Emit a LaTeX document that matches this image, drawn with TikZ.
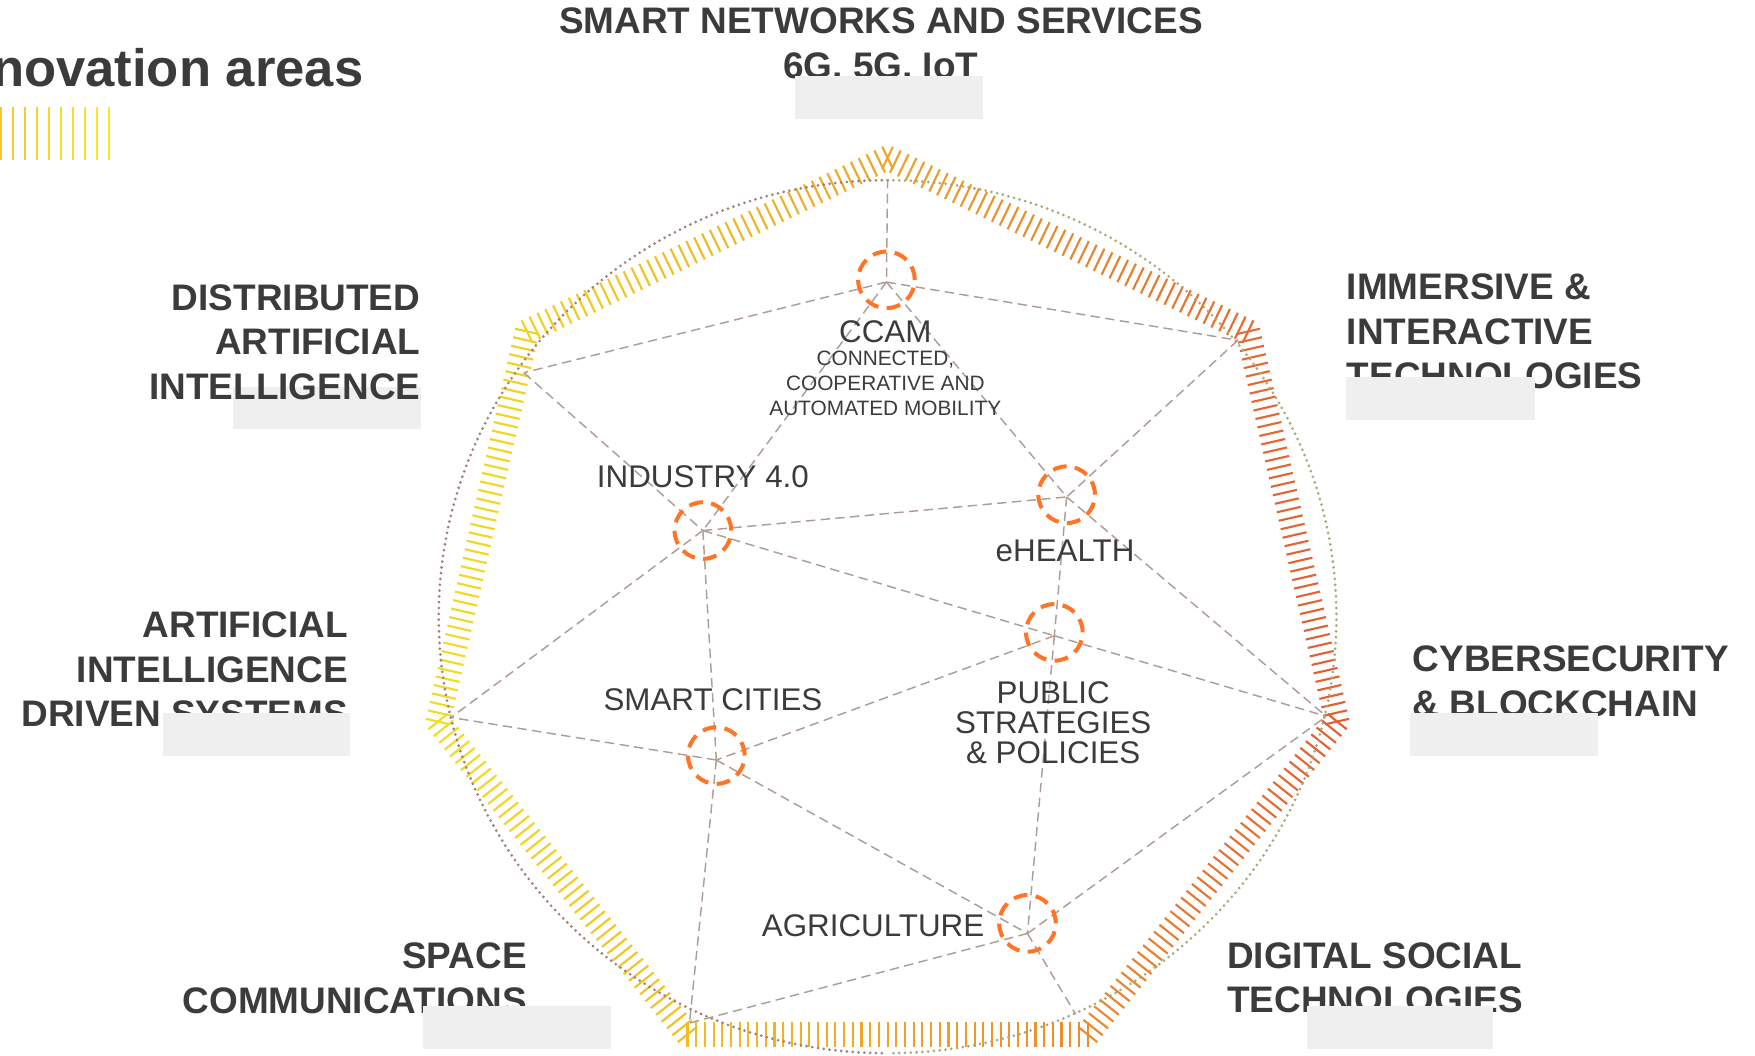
\documentclass[tikz,border=0pt]{standalone}
\usepackage{fontspec}
\setmainfont{Liberation Sans}
\usetikzlibrary{calc}
\definecolor{txt}{HTML}{3C3B3B}
\definecolor{dashc}{HTML}{AE9D95}
\definecolor{ring}{HTML}{FF7427}
\definecolor{boxg}{HTML}{EFEFEF}
\definecolor{dotL}{HTML}{A0817A}
\definecolor{dotR}{HTML}{A9AA78}
\definecolor{barA}{HTML}{F5C832}
\definecolor{barB}{HTML}{F9EA1E}
\definecolor{c0}{HTML}{ECA528}
\definecolor{c1}{HTML}{E76A2F}
\definecolor{c2}{HTML}{E45E35}
\definecolor{c3}{HTML}{EE8A2C}
\definecolor{c4}{HTML}{F2BE22}
\definecolor{c5}{HTML}{F2DC22}
\definecolor{c6}{HTML}{F0D222}
\definecolor{c7}{HTML}{ECA528}
\begin{document}
\begin{tikzpicture}[x=0.5pt,y=-0.5pt,
  hatch/.style={line width=0.95pt, line cap=butt},
  conn/.style={draw=dashc, line width=0.65pt, dash pattern=on 4.2pt off 2.4pt},
  ringc/.style={circle, draw=ring, line width=1.8pt, dash pattern=on 6.2pt off 3.74pt, minimum size=25.3pt, inner sep=0pt},
  dotline/.style={line width=1.35pt, line cap=round, dash pattern=on 0pt off 2.6pt},
  outer/.style={font=\fontsize{16.5}{19.75}\selectfont\bfseries, text=txt, inner sep=0pt},
  inner/.style={font=\fontsize{14}{13.4}\selectfont, text=txt, inner sep=0pt, align=center},
  small/.style={font=\fontsize{9.3}{11.2}\selectfont, text=txt, inner sep=0pt, align=center},
  graybox/.style={fill=boxg}
]
\useasboundingbox (0,0) rectangle (1568,943);

% hatched heptagon band
\foreach \k in {0,...,6} {
  \pgfmathsetmacro\ax{793+412*cos(-90+\k*360/7)}
  \pgfmathsetmacro\ay{553+412*sin(-90+\k*360/7)}
  \pgfmathsetmacro\bx{793+412*cos(-90+(\k+1)*360/7)}
  \pgfmathsetmacro\by{553+412*sin(-90+(\k+1)*360/7)}
  \pgfmathsetmacro\nx{11*cos(-90+(\k+0.5)*360/7)}
  \pgfmathsetmacro\ny{11*sin(-90+(\k+0.5)*360/7)}
  \pgfmathtruncatemacro\kn{\k+1}
  \foreach \i in {0,...,46} {
    \pgfmathsetmacro\t{\i/46}
    \pgfmathtruncatemacro\p{round(100-100*\t)}
    \draw[hatch, draw=c\k!\p!c\kn] ({\ax+\t*(\bx-\ax)+\nx},{\ay+\t*(\by-\ay)+\ny}) -- ({\ax+\t*(\bx-\ax)-\nx},{\ay+\t*(\by-\ay)-\ny});
  }
}

% dotted ring
\draw[dotline, draw=dotR] (793,161) arc[start angle=90, end angle=-90, x radius=200.5pt, y radius=195pt];
\draw[dotline, draw=dotL] (793,161) arc[start angle=90, end angle=270, x radius=200.5pt, y radius=195pt];

% outer anchor points
\coordinate (p0) at (793,160);
\coordinate (p1) at (1106,304);
\coordinate (p2) at (1185,640);
\coordinate (p3) at (961,906);
\coordinate (p4) at (616,914);
\coordinate (p5) at (403,641);
\coordinate (p6) at (468,333);

% inner junctions
\coordinate (ccam) at (792,252);
\coordinate (eh) at (953,444);
\coordinate (pub) at (942,568);
\coordinate (ag) at (918,834);
\coordinate (sc) at (640,679);
\coordinate (ind) at (628,474);

% connectors
\draw[conn] (p0) -- (ccam);
\draw[conn] (ccam) -- (p6);
\draw[conn] (ccam) -- (p1);
\draw[conn] (ccam) -- (ind);
\draw[conn] (ccam) -- (eh);
\draw[conn] (p6) -- (ind);
\draw[conn] (p1) -- (eh);
\draw[conn] (ind) -- (eh);
\draw[conn] (ind) -- (p5);
\draw[conn] (ind) -- (sc);
\draw[conn] (ind) -- (pub);
\draw[conn] (eh) -- (pub);
\draw[conn] (eh) -- (p2);
\draw[conn] (pub) -- (p2);
\draw[conn] (pub) -- (sc);
\draw[conn] (pub) -- (ag);
\draw[conn] (sc) -- (p5);
\draw[conn] (sc) -- (p4);
\draw[conn] (sc) -- (ag);
\draw[conn] (ag) -- (p4);
\draw[conn] (ag) -- (p3);
\draw[conn] (ag) -- (p2);

% dashed rings
\node[ringc] (ccamc) at (792,250) {};
\node[ringc] (ehc) at (953,442) {};
\node[ringc] (pubc) at (942,565) {};
\node[ringc] (agc) at (918,825) {};
\node[ringc] (scc) at (640,675) {};
\node[ringc] (indc) at (628,474) {};

% inner labels
\node[inner] (lccam) at (791,296) {CCAM};
\node[small] (lccam2) at (791,342.5) {CONNECTED,\\COOPERATIVE AND\\AUTOMATED MOBILITY};
\node[inner] (lind) at (628,426) {INDUSTRY 4.0};
\node[inner] (leh) at (951.6,492) {eHEALTH};
\node[inner] (lpub) at (941,646) {PUBLIC\\STRATEGIES\\\& POLICIES};
\node[inner] (lsc) at (637,625) {SMART CITIES};
\node[inner] (lag) at (780,827) {AGRICULTURE};

% grey box lying under its label
\fill[graybox] (208,346) rectangle (376,383.6);

% outer labels
\node[outer, align=center] (lsns) at (787,41) {SMART NETWORKS AND SERVICES\\6G, 5G, IoT};
\node[outer, align=left, anchor=west] (limm) at (1203,296) {IMMERSIVE \&\\INTERACTIVE\\TECHNOLOGIES};
\node[outer, align=left, anchor=west] (lcyb) at (1262,608.7) {CYBERSECURITY\\\& BLOCKCHAIN};
\node[outer, align=left, anchor=west] (ldst) at (1096,873.5) {DIGITAL SOCIAL\\TECHNOLOGIES};
\node[outer, align=right, anchor=east] (lspc) at (471,874) {SPACE\\COMMUNICATIONS};
\node[outer, align=right, anchor=east] (laid) at (311.2,598) {ARTIFICIAL\\INTELLIGENCE\\DRIVEN SYSTEMS};
\node[outer, align=right, anchor=east] (ldai) at (375.9,305.7) {DISTRIBUTED\\ARTIFICIAL\\INTELLIGENCE};

% grey boxes over labels
\fill[graybox] (710,68) rectangle (878,106);
\fill[graybox] (1203,336.5) rectangle (1371,375);
\fill[graybox] (1260,637.4) rectangle (1428,675.2);
\fill[graybox] (1168,899) rectangle (1334,937);
\fill[graybox] (378,899) rectangle (546,937);
\fill[graybox] (145.3,636.8) rectangle (312.7,675.2);

% title
\node[font=\fontsize{23.5}{28}\selectfont\bfseries, text=txt, inner sep=0pt, anchor=base east] (title) at (325,77.4) {novation areas};
\foreach \i in {0,...,9} {
  \pgfmathtruncatemacro\p{100-11*\i}
  \draw[line width=0.7pt, draw=barA!\p!barB] ({1+10.7*\i},96) -- ({1+10.7*\i},143);
}
\end{tikzpicture}
\end{document}
